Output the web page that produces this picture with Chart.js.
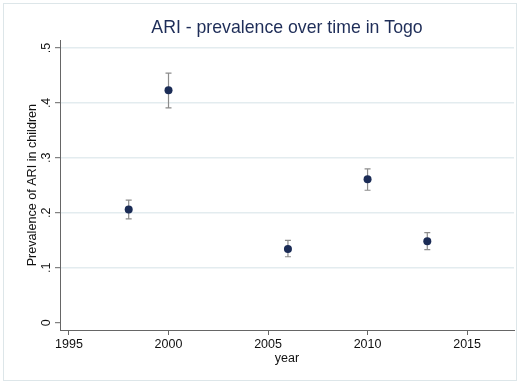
<!DOCTYPE html>
<html><head><meta charset="utf-8">
<script src="https://cdn.jsdelivr.net/npm/chart.js@4"></script>
<style>html,body{margin:0;padding:0;background:#fff;}#wrap{width:518px;height:382px;position:relative;}</style>
</head><body><div id="wrap"><canvas id="c" width="518" height="382"></canvas></div>
<script>
const years = [1998, 2000, 2006, 2010, 2013];
const prevalence = [0.206, 0.423, 0.134, 0.261, 0.148];
const ciLower = [0.189, 0.391, 0.120, 0.241, 0.133];
const ciUpper = [0.223, 0.454, 0.150, 0.280, 0.164];
const xTicks = [1995, 2000, 2005, 2010, 2015];
const yTicks = [0, 0.1, 0.2, 0.3, 0.4, 0.5];
const yTickLabels = ['0', '.1', '.2', '.3', '.4', '.5'];
const titleText = 'ARI - prevalence over time in Togo';
const xTitle = 'year';
const yTitle = 'Prevalence of ARI in children';

const FONT = "'Liberation Sans', Arial, Helvetica, sans-serif";
Chart.defaults.font.family = FONT;

const custom = {
  id: 'custom',
  beforeDraw(chart) {
    const ctx = chart.ctx;
    ctx.save();
    ctx.strokeStyle = '#dde6e9';
    ctx.lineWidth = 1;
    ctx.strokeRect(3.5, 3.5, 513, 377);
    ctx.restore();
  },
  beforeDatasetsDraw(chart) {
    const ctx = chart.ctx, xs = chart.scales.x, ys = chart.scales.y;
    ctx.save();
    ctx.strokeStyle = '#8c8c8c';
    ctx.lineWidth = 1.2;
    years.forEach((yr, i) => {
      const x = xs.getPixelForValue(yr);
      const y1 = ys.getPixelForValue(ciLower[i]);
      const y2 = ys.getPixelForValue(ciUpper[i]);
      ctx.beginPath();
      ctx.moveTo(x, y1); ctx.lineTo(x, y2);
      ctx.moveTo(x - 3, y1); ctx.lineTo(x + 3, y1);
      ctx.moveTo(x - 3, y2); ctx.lineTo(x + 3, y2);
      ctx.stroke();
    });
    ctx.restore();
  },
  afterDraw(chart) {
    const ctx = chart.ctx, ys = chart.scales.y, ca = chart.chartArea;
    ctx.save();
    ctx.fillStyle = '#111';
    ctx.font = '12.5px ' + FONT;
    ctx.textAlign = 'center';
    ctx.textBaseline = 'alphabetic';
    yTicks.forEach((v, i) => {
      const y = ys.getPixelForValue(v);
      ctx.save();
      ctx.translate(49.5, y);
      ctx.rotate(-Math.PI / 2);
      ctx.fillText(yTickLabels[i], 0, 0);
      ctx.restore();
    });
    ctx.font = '12.6px ' + FONT;
    ctx.translate(36, (ca.top + ca.bottom) / 2);
    ctx.rotate(-Math.PI / 2);
    ctx.fillText(yTitle, 0, 0);
    ctx.restore();
  }
};

new Chart(document.getElementById('c'), {
  type: 'scatter',
  data: {
    datasets: [{
      data: years.map((x, i) => ({ x: x, y: prevalence[i] })),
      pointRadius: 4,
      pointHoverRadius: 4,
      backgroundColor: '#1b2c56',
      borderColor: '#1b2c56',
      borderWidth: 0
    }]
  },
  options: {
    responsive: false,
    animation: false,
    devicePixelRatio: 1,
    events: [],
    layout: { padding: { left: 0, right: 3, top: 0, bottom: 0 } },
    plugins: {
      legend: { display: false },
      tooltip: { enabled: false },
      title: {
        display: true,
        text: titleText,
        fullSize: false,
        color: '#1e2d58',
        font: { size: 17.7, weight: 'normal', family: FONT },
        padding: { top: 17, bottom: 2 }
      }
    },
    scales: {
      x: {
        type: 'linear',
        min: 1994.549,
        max: 2017.356,
        afterBuildTicks: s => { s.ticks = xTicks.map(v => ({ value: v })); },
        afterFit: s => { s.height = 52; },
        grid: { drawOnChartArea: false, drawTicks: true, tickLength: 5, tickColor: '#666', tickWidth: 1 },
        border: { display: true, color: '#666', width: 1 },
        ticks: { color: '#111', font: { size: 12.5 }, padding: 2, maxRotation: 0, autoSkip: false,
                 callback: v => String(v) },
        title: { display: true, text: xTitle, color: '#111', font: { size: 12.5 }, padding: { top: 0, bottom: 15.5 } }
      },
      y: {
        type: 'linear',
        min: -0.01327,
        max: 0.514,
        afterBuildTicks: s => { s.ticks = yTicks.map(v => ({ value: v })); },
        afterFit: s => { s.width = 60; },
        grid: {
          color: c => (c.tick && c.tick.value === 0) ? 'rgba(0,0,0,0)' : '#e3ecef',
          lineWidth: 1.4,
          drawTicks: true, tickLength: 5, tickColor: '#666', tickWidth: 1
        },
        border: { display: true, color: '#666', width: 1 },
        ticks: { display: false }
      }
    }
  },
  plugins: [custom]
});
</script></body></html>
